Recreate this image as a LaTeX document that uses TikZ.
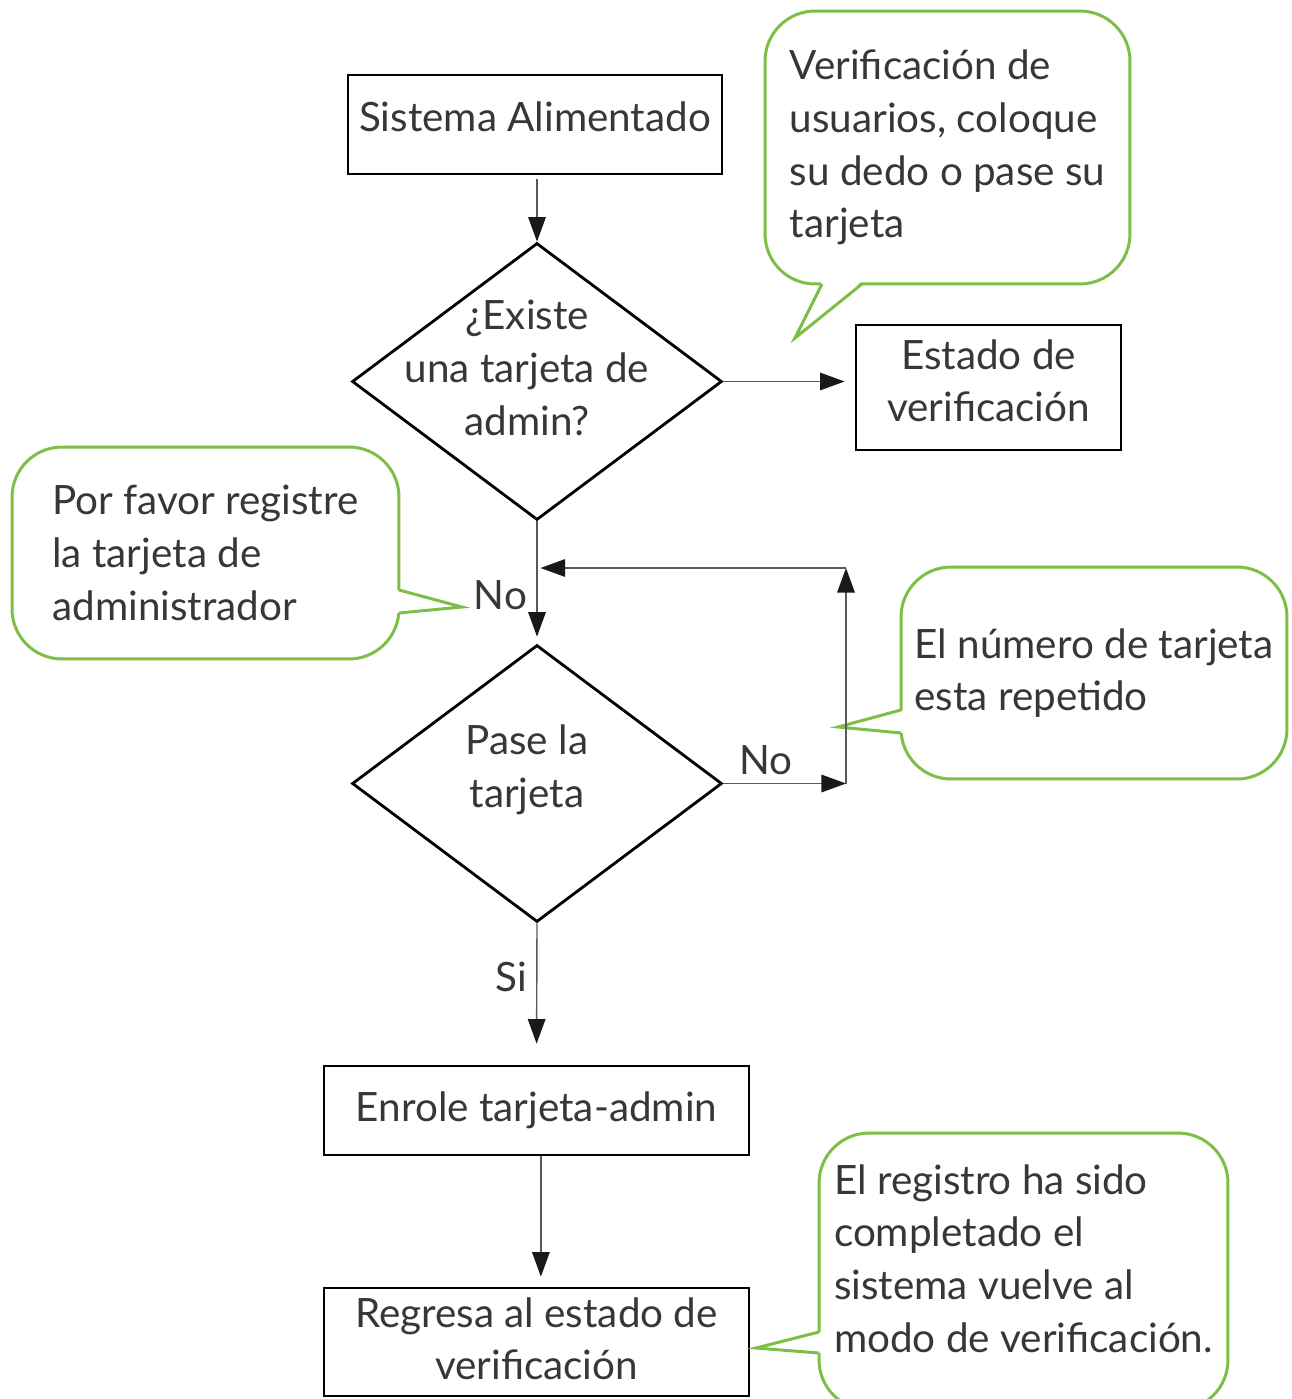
\documentclass[tikz,border=0pt]{standalone}
\usepackage{fontspec}
\setmainfont{Lato}
\usetikzlibrary{shapes.geometric,arrows.meta}
\definecolor{calloutgreen}{RGB}{125,190,70}
\definecolor{inkgray}{RGB}{55,55,55}

\begin{document}
\begin{tikzpicture}[x=0.02cm,y=-0.02cm,
    font=\fontsize{23}{30}\selectfont, text=inkgray,
    box/.style={draw=black, line width=1.6pt, rectangle, align=center},
    decision/.style={draw=black, line width=1.6pt, diamond,
      minimum width=7.4cm, minimum height=5.54cm, inner sep=0pt},
    decisiontext/.style={align=center, xshift=-0.2cm, yshift=0.27cm},
    callout/.style={draw=calloutgreen, line width=1.7pt, rounded corners=1cm,
      fill=white, align=left},
    tail/.style={draw=calloutgreen, line width=1.7pt, line join=miter},
    flow/.style={draw=black!65, line width=0.8pt,
      -{Triangle[length=14pt,width=10pt,color=black!90]}}]

  \useasboundingbox (0,0) rectangle (1291,1399);

  % main flow
  \node[box, minimum width=7.48cm, minimum height=1.98cm, text depth=9pt] (alim) at (535,124.5) {Sistema Alimentado};
  \node[decision, label={[decisiontext]center:¿Existe\\una tarjeta de\\admin?}] (admin) at (537,381.5) {};
  \node[box, minimum width=5.3cm, minimum height=2.5cm, text depth=8pt] (estado) at (988.5,387.5) {Estado de\\verificación};
  \node[decision, label={[decisiontext]center:Pase la\\tarjeta}] (pase) at (537,783.5) {};
  \node[box, minimum width=8.5cm, minimum height=1.78cm] (enrole) at (536.5,1110.5) {Enrole tarjeta-admin};
  \node[box, minimum width=8.5cm, minimum height=2.16cm, text depth=4pt] (regresa) at (536.5,1342) {Regresa al estado de\\verificación};

  % callouts
  \node[callout, minimum width=7.3cm, minimum height=5.46cm] (usuarios) at (947.5,147.5)
    {Verificación de\\usuarios, coloque\\su dedo o pase su\\tarjeta};
  \coordinate (t1) at (795,338);
  \fill[white] (822,281) -- (t1) -- (862,281) -- cycle;
  \draw[tail] (822,284) -- (t1) -- (862,284);

  \node[callout, minimum width=7.74cm, minimum height=4.24cm] (favor) at (205.5,553)
    {Por favor registre\\la tarjeta de\\administrador};
  \coordinate (t2) at (462,607);
  \fill[white] (396,590) -- (t2) -- (396,613) -- cycle;
  \draw[tail] (399,590) -- (t2) -- (399,613);

  \node[callout, minimum width=7.72cm, minimum height=4.24cm] (repetido) at (1094,673)
    {El número de tarjeta\\esta repetido};
  \coordinate (t3) at (838,727);
  \fill[white] (904,710) -- (t3) -- (904,733) -- cycle;
  \draw[tail] (901,710) -- (t3) -- (901,733);

  \node[callout, minimum width=8.18cm, minimum height=5.54cm, text depth=15pt] (completado) at (1023.5,1271.5)
    {El registro ha sido\\completado el\\sistema vuelve al\\modo de verificación.};
  \coordinate (t4) at (756,1348);
  \fill[white] (822,1332) -- (t4) -- (822,1353) -- cycle;
  \draw[tail] (819,1332) -- (t4) -- (819,1353);

  % connectors
  \coordinate (vuelta) at (846,783.5);
  \coordinate (arriba) at (846,568);
  \draw[flow] ([yshift=-2pt]alim.south -| admin.north) -- (admin.north);
  \draw[flow, shorten >=0.2cm] (admin.east) -- (estado.west |- admin.east);
  \draw[flow, shorten >=0.14cm] (admin.south) -- node[left=2pt, pos=0.6] {No} (pase.north);
  \draw[flow] (pase.east) -- node[above=1pt, pos=0.35] {No} (vuelta);
  \draw[flow] (vuelta) -- (arriba);
  \draw[flow, shorten >=2pt] (arriba) -- (admin.south |- arriba);
  \draw[flow, shorten >=0.42cm] (pase.south) -- node[left=2pt, pos=0.38] {Si} (enrole.north);
  \draw[flow, shorten >=0.2cm] ([xshift=2.5pt]enrole.south) -- ([xshift=2.5pt]regresa.north);
\end{tikzpicture}
\end{document}
